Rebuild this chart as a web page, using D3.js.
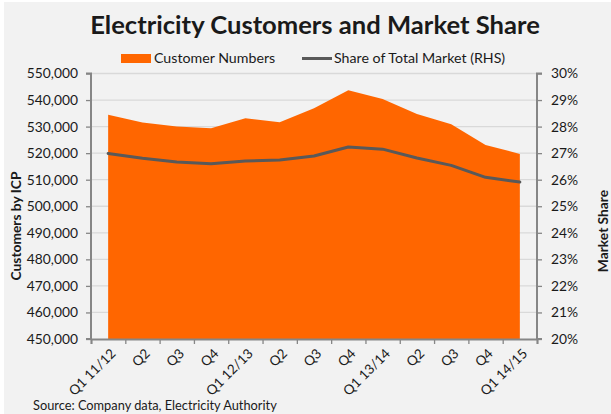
<!DOCTYPE html>
<html>
<head>
<meta charset="utf-8">
<script src="https://cdn.jsdelivr.net/npm/d3@7"></script>
<style>
  body { margin: 0; background: #ffffff; }
  text { font-family: Lato, "Open Sans", sans-serif; fill: #1a1a1a; }
</style>
</head>
<body>
<div id="chart"></div>
<script>
// data
var quarters = ["Q1 11/12", "Q2", "Q3", "Q4", "Q1 12/13", "Q2", "Q3", "Q4",
  "Q1 13/14", "Q2", "Q3", "Q4", "Q1 14/15"];
var customers = [534500, 531500, 530000, 529400, 533100, 531600, 536900,
  543700, 540400, 534700, 530900, 523100, 519700];
var marketShare = [26.99, 26.81, 26.67, 26.60, 26.70, 26.74, 26.89,
  27.23, 27.15, 26.82, 26.54, 26.09, 25.91];
var leftTicks = [450000, 460000, 470000, 480000, 490000, 500000, 510000,
  520000, 530000, 540000, 550000];
var rightTicks = [20, 21, 22, 23, 24, 25, 26, 27, 28, 29, 30];

var svgWidth = 611;
var svgHeight = 414;

// plot box (window.top is reserved, so plotTop etc.)
var plotLeft = 91, plotRight = 537, plotTop = 73.5, plotBottom = 339;

var svg = d3.select("#chart")
  .append("svg")
  .attr("width", svgWidth)
  .attr("height", svgHeight);

svg.append("rect")
  .attr("x", 4).attr("y", 2)
  .attr("width", svgWidth - 4).attr("height", svgHeight - 2)
  .attr("fill", "#f2f2f2");

// scales
var x = d3.scaleBand()
  .domain(d3.range(quarters.length))
  .range([plotLeft, plotRight]);
var xEdge = d3.scaleLinear()
  .domain([0, quarters.length])
  .range([plotLeft, plotRight]);
var yLeft = d3.scaleLinear()
  .domain([450000, 550000])
  .range([plotBottom, plotTop]);
var yRight = d3.scaleLinear()
  .domain([20, 30])
  .range([plotBottom, plotTop]);

// gridlines
svg.append("g")
  .selectAll("line")
  .data(leftTicks.slice(1))
  .enter()
  .append("line")
  .attr("x1", plotLeft).attr("x2", plotRight)
  .attr("y1", d => yLeft(d)).attr("y2", d => yLeft(d))
  .attr("stroke", "#d9d9d9")
  .attr("stroke-width", 1.3);

// area for customers
var area = d3.area()
  .x((d, i) => x(i) + x.bandwidth() / 2)
  .y0(yLeft(450000))
  .y1(d => yLeft(d));

svg.append("path")
  .datum(customers)
  .attr("d", area)
  .attr("fill", "#ff6600");

// market share line
var line = d3.line()
  .x((d, i) => x(i) + x.bandwidth() / 2)
  .y(d => yRight(d));

svg.append("path")
  .datum(marketShare)
  .attr("d", line)
  .attr("fill", "none")
  .attr("stroke", "#595959")
  .attr("stroke-width", 3)
  .attr("stroke-linecap", "round")
  .attr("stroke-linejoin", "round");

// axes
var leftAxis = d3.axisLeft(yLeft)
  .tickValues(leftTicks)
  .tickSize(5)
  .tickPadding(8)
  .tickFormat(d3.format(","));
var rightAxis = d3.axisRight(yRight)
  .tickValues(rightTicks)
  .tickSize(5)
  .tickPadding(9)
  .tickFormat(d => d + "%");
var bottomAxis = d3.axisBottom(xEdge)
  .tickValues(d3.range(quarters.length + 1))
  .tickSize(5)
  .tickFormat("");

function styleAxis(g) {
  g.select(".domain").attr("stroke", "#868686").attr("stroke-width", 2);
  g.selectAll(".tick line").attr("stroke", "#868686").attr("stroke-width", 1.3);
  g.selectAll(".tick text")
    .attr("fill", "#1a1a1a")
    .style("font-family", "Lato, sans-serif")
    .style("font-size", "13.8px");
}

svg.append("g")
  .attr("transform", `translate(${plotLeft}, 0)`)
  .call(leftAxis)
  .call(g => g.select(".domain").attr("d", `M-5,${plotTop}H0V${plotBottom}H-5`))
  .call(styleAxis);

svg.append("g")
  .attr("transform", `translate(${plotRight}, 0)`)
  .call(rightAxis)
  .call(g => g.select(".domain").attr("d", `M5,${plotTop}H0V${plotBottom}H5`))
  .call(styleAxis);

svg.append("g")
  .attr("transform", `translate(0, ${plotBottom})`)
  .call(bottomAxis)
  .call(styleAxis);

// category labels, rotated
svg.append("g")
  .selectAll("text")
  .data(quarters)
  .enter()
  .append("text")
  .attr("transform", (d, i) => `translate(${x(i) + x.bandwidth() / 2 + 5}, 351) rotate(-45)`)
  .attr("text-anchor", "end")
  .attr("dy", "0.35em")
  .style("font-size", "13.5px")
  .text(d => d);

// title
svg.append("text")
  .attr("x", 315)
  .attr("y", 34)
  .attr("text-anchor", "middle")
  .style("font-size", "25.6px")
  .style("font-weight", "bold")
  .text("Electricity Customers and Market Share");

// legend
svg.append("rect")
  .attr("x", 121).attr("y", 54)
  .attr("width", 30).attr("height", 9)
  .attr("fill", "#ff6600");
svg.append("text")
  .attr("x", 154).attr("y", 63)
  .style("font-size", "14.2px")
  .text("Customer Numbers");
svg.append("line")
  .attr("x1", 302).attr("x2", 332)
  .attr("y1", 58.5).attr("y2", 58.5)
  .attr("stroke", "#595959")
  .attr("stroke-width", 3);
svg.append("text")
  .attr("x", 334).attr("y", 63)
  .style("font-size", "14.2px")
  .text("Share of Total Market (RHS)");

// axis titles
svg.append("text")
  .attr("transform", "translate(21, 226) rotate(-90)")
  .attr("text-anchor", "middle")
  .style("font-size", "13.8px")
  .style("font-weight", "bold")
  .text("Customers by ICP");

svg.append("text")
  .attr("transform", "translate(608, 231) rotate(-90)")
  .attr("text-anchor", "middle")
  .style("font-size", "13.8px")
  .style("font-weight", "bold")
  .text("Market Share");

// source
svg.append("text")
  .attr("x", 33).attr("y", 410)
  .style("font-size", "12.8px")
  .text("Source: Company data, Electricity Authority");
</script>
</body>
</html>
